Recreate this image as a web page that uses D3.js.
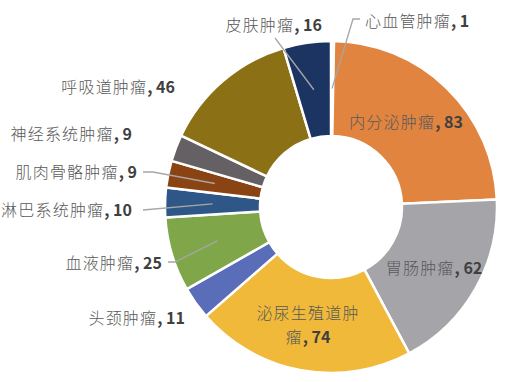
<!DOCTYPE html>
<html>
<head>
<meta charset="utf-8">
<script src="https://cdn.jsdelivr.net/npm/d3@7"></script>
<style>
  body { margin: 0; background: #fff; }
  svg { display: block; }
</style>
</head>
<body>
<div id="chart"></div>
<script>
// data, clockwise from 12 o'clock
const categories = ["心血管肿瘤", "内分泌肿瘤", "胃肠肿瘤", "泌尿生殖道肿瘤", "头颈肿瘤", "血液肿瘤",
                    "淋巴系统肿瘤", "肌肉骨骼肿瘤", "神经系统肿瘤", "呼吸道肿瘤", "皮肤肿瘤"];
const values = [1, 83, 62, 74, 11, 25, 10, 9, 9, 46, 16];
const colors = ["#ffffff", "#E0843F", "#A5A4A9", "#F0B93A", "#5A6DB8", "#7FA74A",
                "#2E5787", "#8A4312", "#646064", "#8B7015", "#1C3462"];

// label placement (text anchor point + optional leader elbow)
const labelLayout = {
    "心血管肿瘤":   { x: 365, y: 27, anchor: "start", elbow: [[360, 19], [353, 19]] },
    "内分泌肿瘤":   { x: 406, y: 128, anchor: "middle" },
    "胃肠肿瘤":     { x: 434, y: 274, anchor: "middle" },
    "泌尿生殖道肿瘤": { x: 308, y: 319, anchor: "middle", split: 6 },
    "头颈肿瘤":     { x: 185, y: 324, anchor: "end" },
    "血液肿瘤":     { x: 162, y: 269, anchor: "end", elbow: [[168, 262], [175, 262]] },
    "淋巴系统肿瘤": { x: 132, y: 216, anchor: "end", elbow: [[143, 210]] },
    "肌肉骨骼肿瘤": { x: 137, y: 178, anchor: "end", elbow: [[143, 172], [153, 172]] },
    "神经系统肿瘤": { x: 132, y: 140, anchor: "end" },
    "呼吸道肿瘤":   { x: 175, y: 93, anchor: "end" },
    "皮肤肿瘤":     { x: 322, y: 31, anchor: "end", elbow: [[275, 38]] }
};

const width = 515, height = 382;
const cx = 331, cy = 207;
const outerR = 166, innerR = 71;

const svg = d3.select("#chart").append("svg")
    .attr("width", width)
    .attr("height", height);

const g = svg.append("g").attr("transform", `translate(${cx},${cy})`);

const pie = d3.pie().sort(null).value(d => d.value);
const arc = d3.arc().innerRadius(innerR).outerRadius(outerR);
const midArc = d3.arc().innerRadius((innerR + outerR) / 2).outerRadius((innerR + outerR) / 2);

const data = categories.map((c, i) => ({ name: c, value: values[i], color: colors[i] }));
const arcs = pie(data);

g.selectAll("path.slice")
    .data(arcs)
    .enter().append("path")
    .attr("class", "slice")
    .attr("d", arc)
    .attr("fill", d => d.data.color)
    .attr("stroke", "#fff")
    .attr("stroke-width", 2.5)
    .attr("stroke-linejoin", "round");

// leader lines
arcs.forEach(d => {
    const L = labelLayout[d.data.name];
    if (!L.elbow) return;
    const c = midArc.centroid(d);
    const pts = L.elbow.map(p => [p[0], p[1]]).concat([[c[0] + cx, c[1] + cy]]);
    svg.append("path")
        .attr("d", d3.line()(pts))
        .attr("fill", "none")
        .attr("stroke", "#A6A6A6")
        .attr("stroke-width", 1.3);
});

// labels
const labelG = svg.append("g")
    .style("font-family", "'Noto Sans CJK SC', 'Noto Sans', sans-serif")
    .style("font-size", "16px");

function addName(t, s) {
    t.append("tspan")
        .attr("fill", "#595959")
        .attr("font-weight", 300)
        .attr("letter-spacing", "1.2px")
        .text(s);
}

arcs.forEach(d => {
    const L = labelLayout[d.data.name];
    const name = d.data.name;
    const t = labelG.append("text")
        .attr("x", L.x)
        .attr("y", L.y)
        .attr("text-anchor", L.anchor);
    if (L.split) {
        addName(t, name.slice(0, L.split));
        const t2 = labelG.append("text")
            .attr("x", L.x)
            .attr("y", L.y + 24)
            .attr("text-anchor", L.anchor);
        addName(t2, name.slice(L.split));
        t2.append("tspan").attr("fill", "#404040").attr("font-weight", "bold").text(", " + d.data.value);
    } else {
        addName(t, name);
        t.append("tspan")
            .attr("fill", "#404040")
            .attr("font-weight", "bold")
            .text(", " + d.data.value);
    }
});
</script>
</body>
</html>
